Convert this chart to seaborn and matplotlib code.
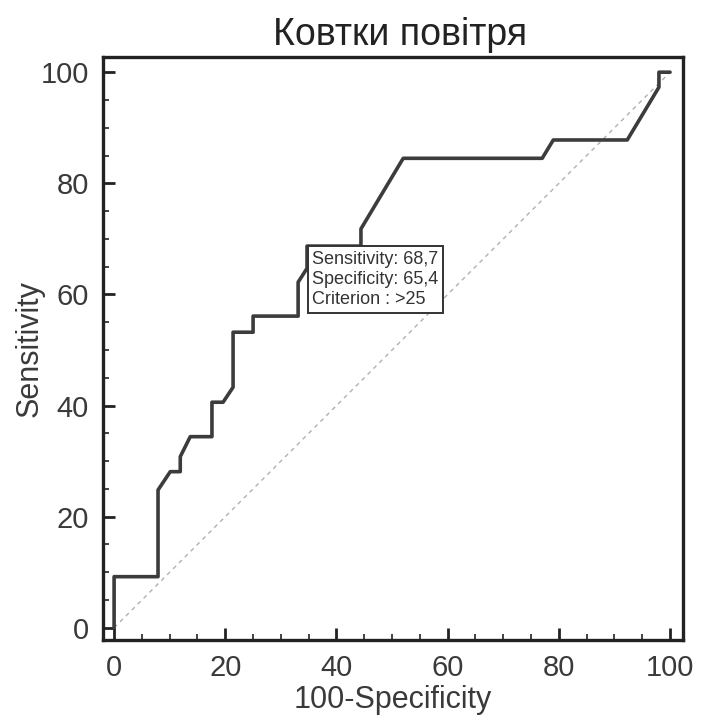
import numpy as np
import pandas as pd
import matplotlib
matplotlib.use("Agg")
import matplotlib.pyplot as plt
from matplotlib.ticker import MultipleLocator
import seaborn as sns

# ROC curve points (100-specificity, sensitivity)
fpr = [0, 0, 7.9, 7.9, 10.1, 11.9, 11.9, 13.7, 17.6, 17.6, 19.6, 21.4, 21.4,
       25.0, 25.0, 33.1, 33.1, 34.7, 34.7, 44.4, 44.4, 52.0, 77.0, 79.0,
       92.3, 98.0, 98.0, 100]
tpr = [0, 9.2, 9.2, 24.8, 28.1, 28.1, 30.8, 34.4, 34.4, 40.6, 40.6, 43.3, 53.2,
       53.2, 56.1, 56.1, 62.2, 64.7, 68.7, 68.7, 71.8, 84.5, 84.5, 87.8,
       87.8, 97.3, 100, 100]
diag = [0, 100]

crit_x, crit_y = 34.6, 68.7
crit_lines = ["Sensitivity: 68,7", "Specificity: 65,4", "Criterion : >25"]

title = "Ковтки повітря"
xlab = "100-Specificity"
ylab = "Sensitivity"

sns.set_style("ticks")
plt.rcParams['font.family'] = ['Liberation Sans', 'DejaVu Sans']

roc = pd.DataFrame({"fpr": fpr, "tpr": tpr})
ref = pd.DataFrame({"x": diag, "y": diag})

fig = plt.figure(figsize=(7.02, 7.24), dpi=100)
ax = fig.add_axes([0.1467, 0.116, 0.826, 0.805])

sns.lineplot(data=ref, x="x", y="y", ax=ax, color="#b0b0b0", lw=1.0,
             linestyle=(0, (3, 3)), estimator=None, sort=False, zorder=1)
sns.lineplot(data=roc, x="fpr", y="tpr", ax=ax, color="#3c3c3c", lw=2.6,
             estimator=None, sort=False, zorder=2)

ax.annotate("\n".join(crit_lines), xy=(crit_x, crit_y), xytext=(4, -3.5),
            textcoords="offset points", ha="left", va="top", fontsize=13,
            color="#333333", linespacing=1.25, zorder=5,
            bbox=dict(boxstyle="square,pad=0.25", fc="white", ec="#333333", lw=1.4))

ax.set_xlim(-2.0, 102.3)
ax.set_ylim(-2.2, 102.7)
ax.xaxis.set_major_locator(MultipleLocator(20))
ax.yaxis.set_major_locator(MultipleLocator(20))
ax.xaxis.set_minor_locator(MultipleLocator(5))
ax.yaxis.set_minor_locator(MultipleLocator(5))
ax.tick_params(which="major", direction="in", length=8.5, width=2,
               labelsize=21, labelcolor="#3a3a3a", color="#222222", pad=10)
ax.tick_params(which="minor", direction="in", length=4.3, width=1.2, color="#222222")
for s in ax.spines.values():
    s.set_linewidth(2.4)
    s.set_color("#222222")

ax.set_title(title, fontsize=27, color="#222222", pad=9, x=0.513)
ax.set_xlabel(xlab, fontsize=22, color="#3a3a3a", labelpad=2)
ax.set_ylabel(ylab, fontsize=22, color="#3a3a3a", labelpad=-3)

fig.savefig("out.png", dpi=100)
